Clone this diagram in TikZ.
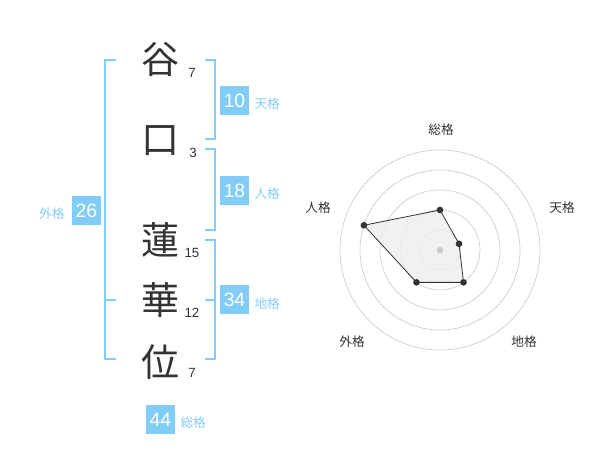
\documentclass[tikz,border=0pt]{standalone}
\usepackage{fontspec}
\setmainfont{Liberation Sans}
\newfontfamily\jp{Noto Sans CJK JP}
\usetikzlibrary{positioning, calc}
\definecolor{skyblue}{RGB}{130,205,248}
\definecolor{ink}{RGB}{51,51,51}
\definecolor{ringgray}{RGB}{204,204,204}
\definecolor{webfill}{RGB}{238,238,238}
\tikzset{kanji/.style={
    inner sep=0pt,
    text=ink,
    font=\jp\fontsize{28.5}{30}\selectfont
}}
\tikzset{strokes/.style={
    inner sep=0pt,
    text=ink,
    font=\fontsize{10}{12}\selectfont
}}
\tikzset{score/.style={
    rectangle,
    fill=skyblue,
    minimum size=21.75pt,
    inner sep=0pt,
    text=white,
    font=\fontsize{14.5}{16}\selectfont
}}
\tikzset{kaku/.style={
    inner sep=0pt,
    text=skyblue,
    font=\jp\fontsize{9.5}{11}\selectfont
}}
\tikzset{axis/.style={
    inner sep=0pt,
    text=ink,
    font=\jp\fontsize{9.5}{11}\selectfont
}}
\tikzset{bracket/.style={draw=skyblue, line width=1.5pt}}
\tikzset{ring/.style={draw=ringgray, line width=0.5pt}}
\tikzset{vertex/.style={circle, fill=ink, inner sep=0pt, minimum size=5pt}}

\begin{document}
\begin{tikzpicture}[x=0.75pt, y=-0.75pt]
    \useasboundingbox (0,0) rectangle (600,470);
    % Name and stroke counts
    \node (c1) [kanji] at (160,59)  {谷};
    \node (c2) [kanji] at (160,141) {口};
    \node (c3) [kanji] at (160,240) {蓮};
    \node (c4) [kanji] at (160,300) {華};
    \node (c5) [kanji] at (160,362) {位};
    \node (n1) [strokes] at (192,73)  {7};
    \node (n2) [strokes] at (193,153) {3};
    \node (n3) [strokes] at (192,253) {15};
    \node (n4) [strokes] at (192,313) {12};
    \node (n5) [strokes] at (192,373) {7};
    % Scores
    \node (ten) [score] at (234.5,100.5) {10};
    \node (jin) [score] at (234.5,190.5) {18};
    \node (chi) [score] at (234.5,300)   {34};
    \node (gai) [score] at (86.5,210.5)  {26};
    \node (sou) [score] at (160.5,419.5) {44};
    \node (tenl) [kaku, right=3.75pt of ten, yshift=-2.5pt] {天格};
    \node (jinl) [kaku, right=3.75pt of jin, yshift=-2.5pt] {人格};
    \node (chil) [kaku, right=3.75pt of chi, yshift=-2.5pt] {地格};
    \node (gail) [kaku, left=5.25pt of gai, yshift=-2.5pt]  {外格};
    \node (soul) [kaku, right=3.75pt of sou, yshift=-2.5pt] {総格};
    % Brackets
    \coordinate (gt) at (105,60);
    \coordinate (gb) at (105,359);
    \draw [bracket] ($(gt)+(11,0)$) -- (gt) -- (gb) -- ($(gb)+(11,0)$);
    \draw [bracket] (105,300) -- (116,300);
    \draw [bracket] (205,60) -- (214.5,60) -- (214.5,139.5) -- (205,139.5);
    \draw [bracket] (205,149.5) -- (214.5,149.5) -- (214.5,230) -- (205,230);
    \draw [bracket] (205,240) -- (214.5,240) -- (214.5,359) -- (205,359);
    \draw [bracket] (205,300) -- (214.5,300);
    % Radar chart
    \node (a1) [axis] at (441,130) {総格};
    \node (a2) [axis] at (562,208) {天格};
    \node (a3) [axis] at (524,342) {地格};
    \node (a4) [axis] at (352,342) {外格};
    \node (a5) [axis] at (318,208) {人格};
    \begin{scope}[shift={(440,250)}, x=0.75pt, y=0.75pt]
        \foreach \r in {20,40,60,80,100}
            \draw [ring] (0,0) circle (\r);
        \coordinate (p1) at (90:40);
        \coordinate (p2) at (18:20);
        \coordinate (p3) at (-54:40);
        \coordinate (p4) at (-126:40);
        \coordinate (p5) at (162:80);
        \filldraw [fill=webfill, fill opacity=0.8, draw=ink, line width=0.6pt]
            (p1) -- (p2) -- (p3) -- (p4) -- (p5) -- cycle;
        \node (centre) [vertex, fill=ringgray] at (0,0) {};
        \foreach \p in {p1,p2,p3,p4,p5}
            \node [vertex] at (\p) {};
    \end{scope}
\end{tikzpicture}
\end{document}
